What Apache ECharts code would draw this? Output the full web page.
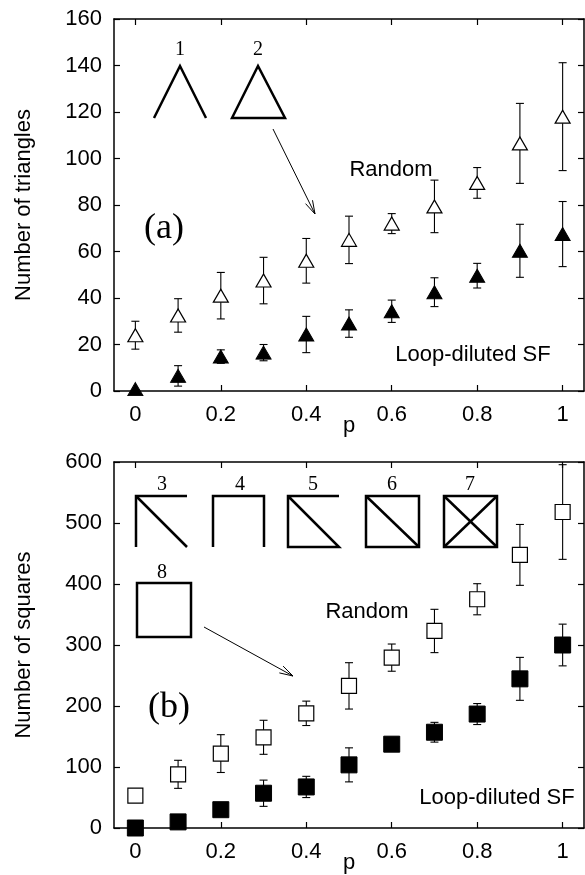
<!DOCTYPE html>
<html><head><meta charset="utf-8">
<script src="https://cdn.jsdelivr.net/npm/echarts@6/dist/echarts.min.js"></script>
<style>html,body{margin:0;padding:0;background:#fff}#c{width:585px;height:875px}</style>
</head><body><div id="c"></div>
<script>
// ---- data ----
const p = [0, 0.1, 0.2, 0.3, 0.4, 0.5, 0.6, 0.7, 0.8, 0.9, 1];
const xTicks = [0, 0.2, 0.4, 0.6, 0.8, 1];
const triRandom    = [24, 32.5, 41, 47.5, 56, 65, 72, 79.4, 89.5, 106.5, 118];
const triRandomErr = [6, 7.2, 10, 10, 9.6, 10.2, 4.3, 11.3, 6.6, 17.2, 23.2];
const triLoop      = [0.8, 6.5, 14.8, 16.5, 24.3, 29, 34.3, 42.5, 49.6, 60.3, 67.5];
const triLoopErr   = [0, 4.4, 2.9, 3.5, 7.8, 5.9, 4.8, 6.2, 5.3, 11.4, 14];
const sqRandom     = [53, 88, 122, 148.7, 188, 233, 279.3, 323, 375, 447.7, 518];
const sqRandomErr  = [0, 23, 31, 27.9, 20, 38, 22.3, 35.5, 25.5, 49.9, 77.6];
const sqLoop       = [0, 10, 30, 57, 67.3, 103.5, 137.4, 157, 186.8, 244.5, 300];
const sqLoopErr    = [0, 0, 0, 21.5, 17.4, 27.9, 0, 16.2, 17.2, 35.2, 34.2];

const SANS = 'Liberation Sans', SERIF = 'Liberation Serif';
const chart = echarts.init(document.getElementById('c'));

const grids = [
  {left: 114, right: 1, top: 19, height: 372},
  {left: 114, right: 1, top: 462, height: 372}
];

function xAxes(gi) {
  return [
    {gridIndex: gi, type: 'value', min: -0.05, max: 1.05, position: 'bottom',
     name: 'p', nameLocation: 'middle', nameGap: 24, nameMoveOverlap: false,
     nameTextStyle: {fontFamily: SANS, fontSize: 22, color: '#000'},
     axisLine: {onZero: false, lineStyle: {color: '#000', width: 1.5}},
     axisTick: {inside: true, length: 6, customValues: xTicks, lineStyle: {color: '#000', width: 1.2}},
     axisLabel: {customValues: xTicks, fontFamily: SANS, fontSize: 22, color: '#000', margin: 13},
     splitLine: {show: false}},
    {gridIndex: gi, type: 'value', min: -0.05, max: 1.05, position: 'top',
     axisLine: {onZero: false, lineStyle: {color: '#000', width: 1.5}},
     axisTick: {inside: true, length: 6, customValues: xTicks, lineStyle: {color: '#000', width: 1.2}},
     axisLabel: {show: false}, splitLine: {show: false}}
  ];
}
function yAxes(gi, max, interval, name) {
  return [
    {gridIndex: gi, type: 'value', min: 0, max: max, interval: interval, position: 'left',
     name: name, nameLocation: 'middle', nameGap: 79, nameMoveOverlap: false,
     nameTextStyle: {fontFamily: SANS, fontSize: 22, color: '#000'},
     axisLine: {show: true, onZero: false, lineStyle: {color: '#000', width: 1.5}},
     axisTick: {show: true, inside: true, length: 6, lineStyle: {color: '#000', width: 1.2}},
     axisLabel: {fontFamily: SANS, fontSize: 22, color: '#000', margin: 12},
     splitLine: {show: false}},
    {gridIndex: gi, type: 'value', min: 0, max: max, interval: interval, position: 'right',
     axisLine: {show: true, onZero: false, lineStyle: {color: '#000', width: 1.5}},
     axisTick: {show: true, inside: true, length: 6, lineStyle: {color: '#000', width: 1.2}},
     axisLabel: {show: false}, splitLine: {show: false}}
  ];
}

function errSeries(xi, yi, vals, errs) {
  return {
    type: 'custom', xAxisIndex: xi, yAxisIndex: yi, z: 2,
    data: p.map((x, i) => [x, vals[i], errs[i]]),
    renderItem: function (params, api) {
      const x = api.value(0), v = api.value(1), e = api.value(2);
      if (!e) return null;
      const top = api.coord([x, v + e]), bot = api.coord([x, v - e]);
      const cw = 4;
      const st = {stroke: '#000', lineWidth: 1.1};
      return {type: 'group', children: [
        {type: 'line', shape: {x1: top[0], y1: top[1], x2: bot[0], y2: bot[1]}, style: st},
        {type: 'line', shape: {x1: top[0] - cw, y1: top[1], x2: top[0] + cw, y2: top[1]}, style: st},
        {type: 'line', shape: {x1: bot[0] - cw, y1: bot[1], x2: bot[0] + cw, y2: bot[1]}, style: st}
      ]};
    }
  };
}
function markSeries(xi, yi, vals, symbol, size, filled) {
  return {
    type: 'scatter', xAxisIndex: xi, yAxisIndex: yi, z: 5, clip: false,
    symbol: symbol, symbolSize: size,
    data: p.map((x, i) => [x, vals[i]]),
    itemStyle: filled ? {color: '#000', borderColor: '#000', borderWidth: 1, opacity: 1}
                      : {color: '#fff', borderColor: '#000', borderWidth: 1.2, opacity: 1},
    emphasis: {disabled: true}
  };
}

// ---- annotations (decorations) ----
const G = [];
function pl(points, w, closed) {
  G.push({type: closed ? 'polygon' : 'polyline', shape: {points: points},
          style: {stroke: '#000', lineWidth: w || 2.5, fill: null, lineJoin: 'miter'}, z: 10});
}
function txt(x, y, s, fam, size) {
  G.push({type: 'text', x: x, y: y, z: 10,
          style: {text: s, fontFamily: fam, fontSize: size, fill: '#000', align: 'center', verticalAlign: 'middle'}});
}
function arrow(x1, y1, x2, y2) {
  G.push({type: 'line', shape: {x1, y1, x2, y2}, style: {stroke: '#000', lineWidth: 1}, z: 10});
  const a = Math.atan2(y2 - y1, x2 - x1), L = 14, h = 0.28;
  [a + Math.PI - h, a + Math.PI + h].forEach(b => {
    G.push({type: 'line', shape: {x1: x2, y1: y2, x2: x2 + L * Math.cos(b), y2: y2 + L * Math.sin(b)},
            style: {stroke: '#000', lineWidth: 1}, z: 10});
  });
}
// panel (a)
pl([[154, 118], [180, 66], [206, 118]]);
pl([[232, 118], [258, 66], [285, 118]], 2.5, true);
txt(180, 50, '1', SERIF, 20);
txt(258, 50, '2', SERIF, 20);
arrow(273, 129, 315, 214);
txt(391, 170, 'Random', SANS, 22);
txt(164, 229, '(a)', SERIF, 36);
txt(473, 355, 'Loop-diluted SF', SANS, 22);
// panel (b)
const T = 496, B = 547;
pl([[187, T], [136, T], [136, B]]); pl([[136, T], [187, B]]);
pl([[213, B], [213, T], [264, T], [264, B]]);
pl([[339, T], [288, T], [288, B], [339, B], [288, T]]);
pl([[366, T], [419, T], [419, B], [366, B]], 2.5, true); pl([[366, T], [419, B]]);
pl([[444, T], [497, T], [497, B], [444, B]], 2.5, true); pl([[444, T], [497, B]]); pl([[497, T], [444, B]]);
txt(162, 485, '3', SERIF, 20);
txt(240, 485, '4', SERIF, 20);
txt(313, 485, '5', SERIF, 20);
txt(392, 485, '6', SERIF, 20);
txt(470, 485, '7', SERIF, 20);
pl([[137, 583], [191, 583], [191, 637], [137, 637]], 2.5, true);
txt(162, 573, '8', SERIF, 20);
arrow(204, 627, 293, 676);
txt(367, 612, 'Random', SANS, 22);
txt(169, 708, '(b)', SERIF, 36);
txt(497, 798, 'Loop-diluted SF', SANS, 22);

chart.setOption({
  animation: false,
  backgroundColor: '#fff',
  grid: grids,
  xAxis: [...xAxes(0), ...xAxes(1)],
  yAxis: [...yAxes(0, 160, 20, 'Number of triangles'), ...yAxes(1, 600, 100, 'Number of squares')],
  series: [
    errSeries(0, 0, triRandom, triRandomErr),
    errSeries(0, 0, triLoop, triLoopErr),
    markSeries(0, 0, triRandom, 'triangle', [15, 13], false),
    markSeries(0, 0, triLoop, 'triangle', [15, 13], true),
    errSeries(2, 2, sqRandom, sqRandomErr),
    errSeries(2, 2, sqLoop, sqLoopErr),
    markSeries(2, 2, sqRandom, 'rect', 15, false),
    markSeries(2, 2, sqLoop, 'rect', 16, true)
  ],
  graphic: G
});
</script></body></html>
